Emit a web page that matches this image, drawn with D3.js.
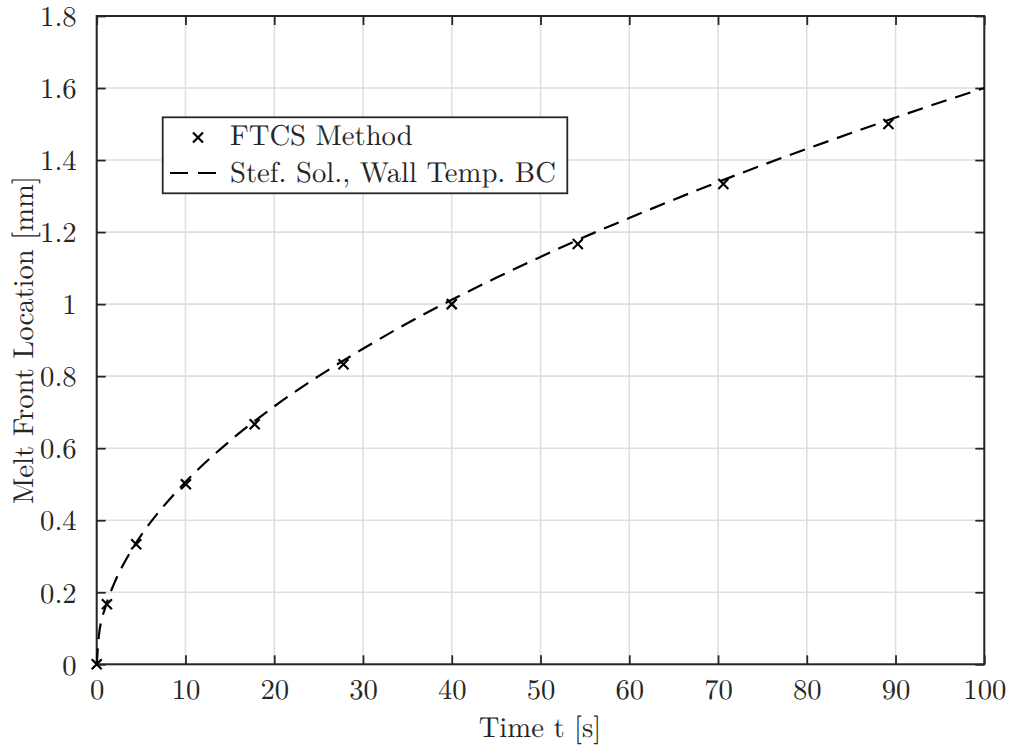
<!DOCTYPE html>
<html><head><meta charset="utf-8">
<script src="https://cdn.jsdelivr.net/npm/d3@7"></script>
<style>body{margin:0;background:#fff}svg{display:block}text{text-rendering:geometricPrecision}</style>
</head><body><svg id="c" width="1010" height="748"></svg>
<script>
const ftcsT = [0, 1.15, 4.45, 10.05, 17.8, 27.8, 40.0, 54.2, 70.6, 89.2];
const ftcsY = [0, 0.1667, 0.3333, 0.5, 0.6667, 0.8333, 1.0, 1.1667, 1.3333, 1.5];
const stefT = [0, 0.25, 1, 2, 3, 4, 5, 7, 10, 15, 20, 25, 30, 35, 40, 45, 50, 55, 60, 65, 70, 75, 80, 85, 90, 95, 100];
const stefY = [0, 0.08, 0.16, 0.226, 0.277, 0.32, 0.358, 0.423, 0.506, 0.62, 0.716, 0.8, 0.876, 0.947, 1.012, 1.073, 1.131, 1.187, 1.239, 1.29, 1.339, 1.386, 1.431, 1.475, 1.518, 1.56, 1.6];
const xTicks = [0,10,20,30,40,50,60,70,80,90,100];
const yTicks = [0,0.2,0.4,0.6,0.8,1,1.2,1.4,1.6,1.8];
const xLabel = "Time t [s]";
const yLabel = "Melt Front Location [mm]";
const legendLabels = ["FTCS Method", "Stef. Sol., Wall Temp. BC"];

// pick an installed serif font
const cv = document.createElement("canvas").getContext("2d");
function w(f){cv.font = "40px " + f; return cv.measureText("mmmWWWiiil1.,Tt[]").width;}
const wm = w("monospace");
const cands = ["Latin Modern Roman","CMU Serif","Liberation Serif","Tinos","Times New Roman","DejaVu Serif","Noto Serif","FreeSerif"];
let font = "serif";
for (const c of cands){ const a = w(`"${c}", monospace`), b = w(`"${c}", sans-serif`); if (a===b && a!==wm) { font = `"${c}"`; break; } }
const FF = font + ", serif";

const svg = d3.select("#c");
const L=96.7, R=984.3, T=16, B=664.3;
const x = d3.scaleLinear().domain([0,100]).range([L,R]);
const y = d3.scaleLinear().domain([0,1.8]).range([B,T]);
const axisCol="#262626";

// font size from target width of the legend's long entry (~328px in reference)
cv.font = "100px " + FF;
let fs = 100 * 326 / cv.measureText(legendLabels[1]).width;
fs = Math.max(22, Math.min(29, fs));

// grid
svg.append("g").selectAll("line").data(xTicks).join("line")
  .attr("x1",d=>x(d)).attr("x2",d=>x(d)).attr("y1",T).attr("y2",B)
  .attr("stroke","#dfdfdf").attr("stroke-width",1.6);
svg.append("g").selectAll("line").data(yTicks).join("line")
  .attr("y1",d=>y(d)).attr("y2",d=>y(d)).attr("x1",L).attr("x2",R)
  .attr("stroke","#dfdfdf").attr("stroke-width",1.6);

// axes
const tl=9;
const ax = d3.axisBottom(x).tickValues(xTicks).tickSize(-tl).tickPadding(0).tickFormat(d3.format("d"));
const gx = svg.append("g").attr("transform",`translate(0,${B})`).call(ax);
const ay = d3.axisLeft(y).tickValues(yTicks).tickSize(-tl).tickPadding(tl+11).tickFormat(d=>d===0?"0":d===1?"1":d3.format(".1f")(d));
const gy = svg.append("g").attr("transform",`translate(${L},0)`).call(ay);
const at = d3.axisTop(x).tickValues(xTicks).tickSize(-tl).tickFormat("");
const gt = svg.append("g").attr("transform",`translate(0,${T})`).call(at);
const ar = d3.axisRight(y).tickValues(yTicks).tickSize(-tl).tickFormat("");
const gr = svg.append("g").attr("transform",`translate(${R},0)`).call(ar);
[gx,gy,gt,gr].forEach(g=>{
  g.attr("font-family",FF).attr("font-size",fs);
  g.select(".domain").remove();
  g.selectAll(".tick line").attr("stroke",axisCol).attr("stroke-width",1.8);
  g.selectAll("text").attr("fill",axisCol);
});
gx.selectAll("text").attr("dy","0").attr("y",34.5);
gy.selectAll("text").attr("dy","0.34em");
svg.append("rect").attr("x",L).attr("y",T).attr("width",R-L).attr("height",B-T)
  .attr("fill","none").attr("stroke",axisCol).attr("stroke-width",2);

// line
const stef = stefT.map((t,i)=>[t,stefY[i]]);
svg.append("path").datum(stef)
  .attr("d",d3.line().x(d=>x(d[0])).y(d=>y(d[1])).curve(d3.curveMonotoneX))
  .attr("fill","none").attr("stroke","#000").attr("stroke-width",2.2).attr("stroke-dasharray","16,9");

// markers
const ms=5;
svg.append("g").selectAll("path").data(ftcsT.map((t,i)=>[t,ftcsY[i]])).join("path")
  .attr("d",d=>{const cx=x(d[0]),cy=y(d[1]);return `M${cx-ms},${cy-ms}L${cx+ms},${cy+ms}M${cx-ms},${cy+ms}L${cx+ms},${cy-ms}`;})
  .attr("stroke","#000").attr("stroke-width",2.2).attr("fill","none");

// labels
const txt = (sel)=>sel.attr("font-family",FF).attr("font-size",fs).attr("fill",axisCol);
txt(svg.append("text").attr("x",540).attr("y",736.5).attr("text-anchor","middle").text(xLabel));
txt(svg.append("text").attr("transform",`translate(33,340) rotate(-90)`).attr("text-anchor","middle").text(yLabel));

// legend
const lg = svg.append("g");
lg.append("rect").attr("x",162.7).attr("y",117.3).attr("width",404.6).attr("height",76)
  .attr("fill","#fff").attr("stroke",axisCol).attr("stroke-width",1.8);
const cx0=198, cy0=137.5;
lg.append("path").attr("d",`M${cx0-ms},${cy0-ms}L${cx0+ms},${cy0+ms}M${cx0-ms},${cy0+ms}L${cx0+ms},${cy0-ms}`).attr("stroke","#000").attr("stroke-width",2.2);
lg.append("line").attr("x1",170).attr("x2",216).attr("y1",173).attr("y2",173).attr("stroke","#000").attr("stroke-width",2.2).attr("stroke-dasharray","18,10");
txt(lg.append("text").attr("x",230).attr("y",145).text(legendLabels[0]));
txt(lg.append("text").attr("x",230).attr("y",182).text(legendLabels[1]));
</script></body></html>
